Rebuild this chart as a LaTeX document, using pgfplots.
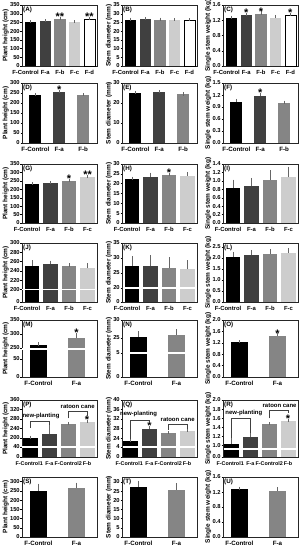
\documentclass[border=0pt]{standalone}
\usepackage{fontspec}
\setmainfont{Liberation Sans}
\usepackage{pgfplots}
\pgfplotsset{compat=1.18}
\definecolor{ca}{HTML}{404040}
\definecolor{cb}{HTML}{858585}
\definecolor{cc}{HTML}{CDCDCD}
\newcommand\fy{\fontsize{5.8}{6}\selectfont\bfseries}
\newcommand\fx{\fontsize{6.2}{7}\selectfont\bfseries}
\newcommand\fxf{\fontsize{5.9}{7}\selectfont\bfseries}
\newcommand\fxs{\fontsize{5.4}{6}\selectfont\bfseries}
\newcommand\fl{\fontsize{6.5}{7}\selectfont\bfseries}
\newcommand\fp{\fontsize{6.3}{7}\selectfont\bfseries}
\newcommand\fa{\fontsize{6}{7}\selectfont\bfseries}
\newcommand\fst{\fontsize{11}{11}\selectfont\bfseries}
\newcommand\FC{\hspace*{-10bp}F-Control}
\newcommand\B[4]{\addplot[fill=#1,draw=none,bar shift=0pt,error bars/.cd,y dir=plus,y explicit,error bar style={draw=black!60,line width=0.4bp},error mark options={draw=black!60,line width=0.4bp,mark size=1.6bp}] coordinates {(#2,#3) +- (0,#4)};}
\newcommand\W[3]{\addplot[fill=white,draw=black,line width=0.4bp,bar shift=0pt,error bars/.cd,y dir=plus,y explicit,error bar style={draw=black!60,line width=0.4bp},error mark options={draw=black!60,line width=0.4bp,mark size=1.6bp}] coordinates {(#1,#2) +- (0,#3)};}
\newcommand\St[3]{\node[font=\fst,anchor=base,inner sep=0pt,yshift=-2.2bp] at (axis cs:#1,#2) {#3};}
\newcommand\PL[1]{\node[anchor=north west,font=\fp,inner sep=0pt] at ([xshift=1bp,yshift=-1.8bp]rel axis cs:0,1) {#1};}
\newcommand\BRK[1]{\draw[white,line width=1.1bp,shorten <=0.5bp,shorten >=0.5bp] ({rel axis cs:0,0}|-{axis cs:0,#1}) -- ({rel axis cs:1,0}|-{axis cs:0,#1});}
\newcommand\BR[5]{\draw[black!75,line width=0.4bp] (axis cs:#1,#3) -- (axis cs:#1,#4) -- (axis cs:#2,#4) -- (axis cs:#2,#5);}
\pgfplotsset{base/.style={
  scale only axis, width=75bp, ybar, ymin=0, clip=false, anchor=south west,
  xtick style={draw=none}, ytick pos=left, tick align=outside,
  major tick length=1.5bp, ytick style={line width=0.4bp,black},
  axis line style={line width=0.5bp,black!85},
  yticklabel style={font=\fy,inner sep=0.6bp},
  xticklabel style={font=\fx,inner sep=1.2bp,yshift=-1.3bp,text height=4.4bp,text depth=1bp},
  ylabel style={font=\fl,inner sep=0.5bp},
},
c5/.style={xmin=-0.58,xmax=4.52,bar width=0.76,xtick={0,...,4},xticklabels={\FC,F-a,F-b,F-c,F-d},xticklabel style={font=\fxf}},
c4/.style={xmin=-0.54,xmax=3.51,bar width=0.78,xtick={0,...,3},xticklabels={\FC,F-a,F-b,F-c},xticklabel style={font=\fxf}},
c3/.style={xmin=-0.56,xmax=2.58,bar width=0.5,xtick={0,...,2},xticklabels={F-Control,F-a,F-b}},
c2/.style={xmin=-0.43,xmax=1.54,bar width=0.45,xtick={0,1},xticklabels={F-Control,F-a}},
c6/.style={xmin=-0.46,xmax=3.53,bar width=0.8,xtick={0,...,3},xticklabels={\hspace*{-3bp}F-Control1,F-a,F-Control2,F-b},xticklabel style={font=\fxs}},
PH/.style={ylabel={Plant height (cm)}},
SD/.style={ylabel={Stem diameter (mm)}},
SW/.style={ylabel={Single stem weight (kg)}},
}
\begin{document}
\begin{tikzpicture}
\useasboundingbox (0bp,0bp) rectangle (300bp,550bp);
% ---------- Row 1
\begin{axis}[base,c5,PH,at={(22bp,484bp)},height=61bp,ymax=350,ytick={0,50,...,350},yticklabels={0,50,100,150,200,250,300,350}]
\B{black}{0}{250}{3}\B{ca}{1}{258}{2}\B{cb}{2}{268}{3}\B{cc}{3}{252}{2}\W{4}{268}{4}
\St{2}{271}{**}\St{4}{272}{**}\PL{(A)}
\end{axis}
\begin{axis}[base,c5,SD,at={(122bp,484bp)},height=61bp,ymax=35,ytick={0,5,...,35},yticklabels={0,5,10,15,20,25,30,35}]
\B{black}{0}{26.5}{0.3}\B{ca}{1}{26.8}{0.3}\B{cb}{2}{26.6}{0.3}\B{cc}{3}{26.3}{0.3}\W{4}{26.2}{0.3}
\PL{(B)}
\end{axis}
\begin{axis}[base,c5,SW,at={(223bp,484bp)},height=61bp,ymax=1.6,ytick={0,0.4,0.8,1.2,1.6},yticklabels={0.0,0.4,0.8,1.2,1.6}]
\B{black}{0}{1.26}{0.02}\B{ca}{1}{1.33}{0.02}\B{cb}{2}{1.37}{0.02}\B{cc}{3}{1.25}{0.05}\W{4}{1.32}{0.03}
\St{1}{1.35}{*}\St{2}{1.39}{*}\St{4}{1.35}{*}\PL{(C)}
\end{axis}
% ---------- Row 2
\begin{axis}[base,c3,PH,at={(22bp,407bp)},height=60bp,ymax=300,ytick={0,50,...,300},yticklabels={0,50,100,150,200,250,300}]
\B{black}{0}{240}{2}\B{ca}{1}{253}{3}\B{cb}{2}{240}{1}
\St{1}{256}{*}\PL{(D)}
\end{axis}
\begin{axis}[base,c3,SD,at={(122bp,407bp)},height=60bp,ymax=30,ytick={0,10,20,30},yticklabels={0,10,20,30}]
\B{black}{0}{24.8}{0.4}\B{ca}{1}{25.4}{0.3}\B{cb}{2}{24.3}{0.2}
\PL{(E)}
\end{axis}
\begin{axis}[base,c3,SW,at={(223bp,407bp)},height=60bp,ymax=1.5,ytick={0,0.3,0.6,0.9,1.2,1.5},yticklabels={0.0,0.3,0.6,0.9,1.2,1.5}]
\B{black}{0}{1.03}{0.03}\B{ca}{1}{1.17}{0.04}\B{cb}{2}{1.00}{0.02}
\St{1}{1.21}{*}\PL{(F)}
\end{axis}
% ---------- Row 3
\begin{axis}[base,c4,PH,at={(22bp,327bp)},height=59bp,ymax=350,ytick={0,50,...,350},yticklabels={0,50,100,150,200,250,300,350}]
\B{black}{0}{232}{2}\B{ca}{1}{237}{4}\B{cb}{2}{248}{4}\B{cc}{3}{273}{2}
\St{2}{252}{*}\St{3}{275}{**}\PL{(G)}
\end{axis}
\begin{axis}[base,c4,SD,at={(122bp,327bp)},height=59bp,ymax=30,ytick={0,5,...,30},yticklabels={0,5,10,15,20,25,30}]
\B{black}{0}{22.5}{0.3}\B{ca}{1}{23.6}{1.2}\B{cb}{2}{24.2}{0.4}\B{cc}{3}{24.1}{0.8}
\St{2}{24.6}{*}\PL{(H)}
\end{axis}
\begin{axis}[base,c4,SW,at={(223bp,327bp)},height=59bp,ymax=1.4,ytick={0,0.2,...,1.4},yticklabels={0.0,0.2,0.4,0.6,0.8,1.0,1.2,1.4}]
\B{black}{0}{0.83}{0.16}\B{ca}{1}{0.88}{0.15}\B{cb}{2}{1.02}{0.19}\B{cc}{3}{1.08}{0.22}
\PL{(I)}
\end{axis}
% ---------- Row 4 (broken axes J, K)
\begin{axis}[base,c4,PH,at={(22bp,248bp)},height=59bp,ymax=59,ytick={0,12.5,21.8,31.1,40.4,49.7,59},yticklabels={0,200,220,240,260,280,300}]
\B{black}{0}{36}{4.3}\B{ca}{1}{37.7}{2}\B{cb}{2}{36}{1}\B{cc}{3}{33.7}{3.3}
\BRK{12.5}\PL{(J)}
\end{axis}
\begin{axis}[base,c4,SD,at={(122bp,248bp)},height=59bp,ymax=59,ytick={0,14,29,44,59},yticklabels={0,20,25,30,35}]
\B{black}{0}{36}{8}\B{ca}{1}{36.3}{9}\B{cb}{2}{33.7}{9.5}\B{cc}{3}{32.7}{7.6}
\BRK{14}\PL{(K)}
\end{axis}
\begin{axis}[base,c4,SW,at={(223bp,248bp)},height=59bp,ymax=2.68,ytick={0,0.5,...,2.5},yticklabels={0.0,0.5,1.0,1.5,2.0,2.5}]
\B{black}{0}{2.05}{0.15}\B{ca}{1}{2.12}{0.18}\B{cb}{2}{2.17}{0.17}\B{cc}{3}{2.22}{0.17}
\PL{(L)}
\end{axis}
% ---------- Row 5 (broken axes M, N)
\begin{axis}[base,c2,PH,at={(22bp,173bp)},height=57bp,ymax=57,ytick={0,18,29,43,57},yticklabels={0,50,250,300,350}]
\B{black}{0}{32}{1}\B{cb}{1}{38.7}{4}
\BRK{28}\St{1}{42.7}{*}\PL{(M)}
\end{axis}
\begin{axis}[base,c2,SD,at={(122bp,173bp)},height=57bp,ymax=57,ytick={0,24,39,57},yticklabels={0,5,25,30}]
\B{black}{0}{40.3}{4}\B{cb}{1}{42}{4.3}
\BRK{24}\PL{(N)}
\end{axis}
\begin{axis}[base,c2,SW,at={(223bp,173bp)},height=57bp,ymax=2.0,ytick={0,0.4,...,2.0},yticklabels={0.0,0.4,0.8,1.2,1.6,2.0}]
\B{black}{0}{1.22}{0.02}\B{cb}{1}{1.44}{0.04}
\St{1}{1.48}{*}\PL{(O)}
\end{axis}
% ---------- Row 6 (broken axes P, Q, R)
\begin{axis}[base,c6,PH,at={(22bp,93bp)},height=57bp,ymax=57,ytick={0,10,19,28.5,38,47.5,57},yticklabels={0,40,200,240,280,320,360}]
\B{black}{0}{18.7}{1}\B{ca}{1}{22.7}{8.6}\B{cb}{2}{33}{0.5}\B{cc}{3}{35.3}{0.5}
\BRK{10}\St{3}{36}{*}
\BR{0}{1}{29}{35.3}{32}\node[font=\fa,inner sep=0pt] at (axis cs:0.55,41.3) {new-planting};
\BR{2}{3}{38.7}{45.3}{41.3}\node[font=\fa,inner sep=0pt] at (axis cs:2.5,50.3) {ratoon cane};
\PL{(P)}
\end{axis}
\begin{axis}[base,c6,SD,at={(122bp,93bp)},height=57bp,ymax=57,ytick={0,10,19,28.5,38,47.5,57},yticklabels={0,4,24,28,32,36,40}]
\B{black}{0}{16}{1}\B{ca}{1}{28.3}{1.4}\B{cb}{2}{23.7}{0.5}\B{cc}{3}{26}{0.5}
\BRK{10}\St{1}{29.7}{*}
\BR{0}{1}{18}{37}{34}\node[font=\fa,inner sep=0pt] at (axis cs:0.42,43) {new-planting};
\BR{2}{3}{27}{32.7}{27.7}\node[font=\fa,inner sep=0pt] at (axis cs:2.5,37.7) {ratoon cane};
\PL{(Q)}
\end{axis}
\begin{axis}[base,c6,SW,at={(223bp,93bp)},height=57bp,ymax=57,ytick={0,11.3,20.4,29.6,38.7,47.9,57},yticklabels={0.0,1.0,1.2,1.4,1.6,1.8,2.0}]
\B{black}{0}{12.7}{6}\B{ca}{1}{20}{2.7}\B{cb}{2}{32.7}{0.6}\B{cc}{3}{36}{0.6}
\BRK{8}\St{3}{36.6}{*}
\BR{0}{1}{19.3}{38.7}{23.7}\node[font=\fa,inner sep=0pt] at (axis cs:0.65,43.7) {new-planting};
\BR{2}{3}{38.7}{47}{43.7}\node[font=\fa,inner sep=0pt] at (axis cs:2.55,51.3) {ratoon cane};
\PL{(R)}
\end{axis}
% ---------- Row 7
\begin{axis}[base,c2,PH,at={(22bp,13bp)},height=60bp,ymax=325,ytick={0,50,...,300},yticklabels={0,50,100,150,200,250,300}]
\B{black}{0}{248}{33}\B{cb}{1}{264}{22}
\PL{(S)}
\end{axis}
\begin{axis}[base,c2,SD,at={(122bp,13bp)},height=60bp,ymax=32.7,ytick={0,5,...,30},yticklabels={0,5,10,15,20,25,30}]
\B{black}{0}{27.2}{2.6}\B{cb}{1}{25.8}{2.7}
\PL{(T)}
\end{axis}
\begin{axis}[base,c2,SW,at={(223bp,13bp)},height=60bp,ymax=1.6,ytick={0,0.4,...,1.6},yticklabels={0.0,0.4,0.8,1.2,1.6}]
\B{black}{0}{1.27}{0.03}\B{cb}{1}{1.23}{0.05}
\PL{(U)}
\end{axis}
\end{tikzpicture}
\end{document}
